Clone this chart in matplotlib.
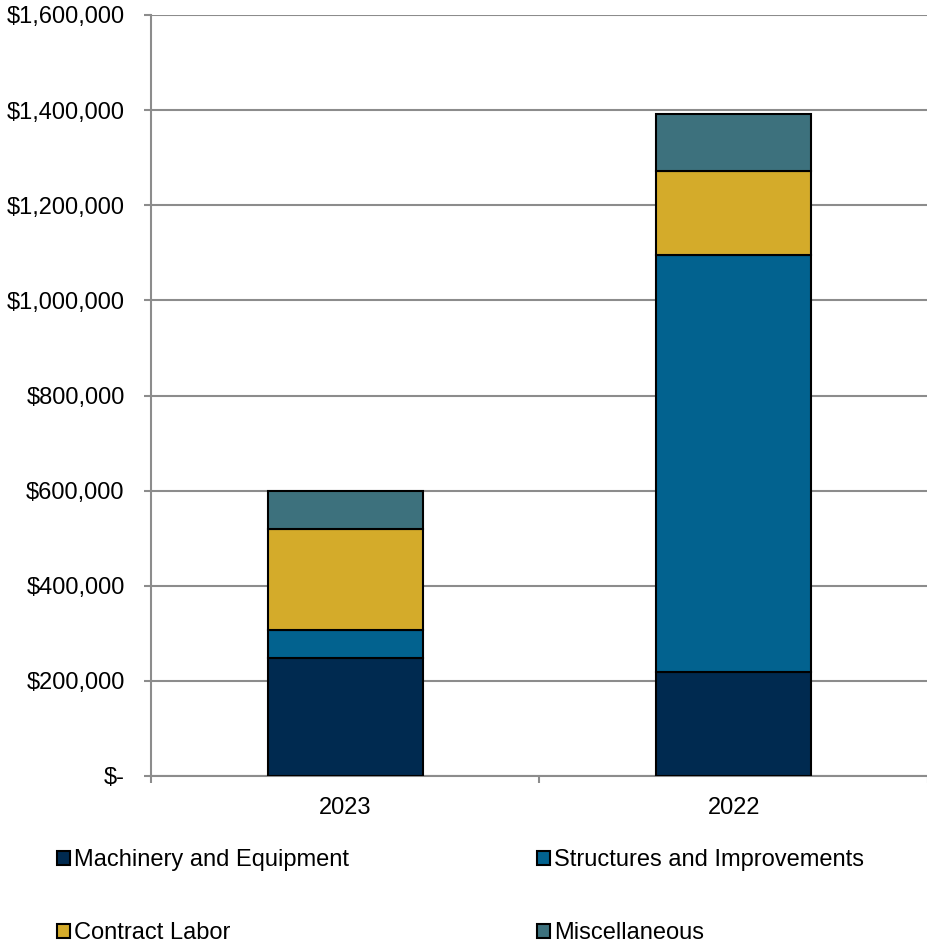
import matplotlib
matplotlib.use("Agg")
import matplotlib.pyplot as plt
from matplotlib.patches import Patch
from matplotlib.ticker import FuncFormatter
import numpy as np

plt.rcParams['font.family'] = ['Liberation Sans', 'DejaVu Sans']

years = ["2023", "2022"]
machinery = [247500, 219000]
structures = [59500, 876500]
contract = [212000, 176500]
misc = [81000, 120500]

series = [
    ("Machinery and Equipment", machinery, "#002A50"),
    ("Structures and Improvements", structures, "#02628F"),
    ("Contract Labor", contract, "#D4AB2A"),
    ("Miscellaneous", misc, "#3D717D"),
]

fig = plt.figure(figsize=(9.28, 9.43), dpi=100)
ax = fig.add_axes([151 / 928, 167 / 943, 777 / 928, 761 / 943])

x = np.arange(len(years))
bottom = np.zeros(len(years))
for name, vals, col in series:
    ax.bar(x, vals, width=0.4, bottom=bottom, color=col,
           edgecolor="black", linewidth=1.5, zorder=3)
    bottom += np.array(vals)

grid_col = "#8C8C8C"
ax.set_ylim(0, 1600000)
ax.set_yticks(np.arange(0, 1600001, 200000))
ax.yaxis.set_major_formatter(FuncFormatter(
    lambda v, p: "$-" if v == 0 else "${:,.0f}".format(v)))
ax.grid(axis="y", color=grid_col, linewidth=1.5, zorder=0)
ax.set_axisbelow(True)

ax.set_xlim(-0.5, 1.5)
ax.set_xticks(x)
ax.set_xticklabels(years)
ax.set_xticks([-0.5, 0.5, 1.5], minor=True)
ax.tick_params(axis="x", which="major", length=0, pad=15, labelsize=17)
ax.tick_params(axis="x", which="minor", length=5, color=grid_col, width=1.5)
ax.tick_params(axis="y", length=5, color=grid_col, width=1.5, pad=14, labelsize=17)

for s in ["top", "right"]:
    ax.spines[s].set_visible(False)
for s in ["left", "bottom"]:
    ax.spines[s].set_color(grid_col)
    ax.spines[s].set_linewidth(1.5)

# legend: two rows, two columns
order = [0, 2, 1, 3]
handles = [Patch(facecolor=series[i][2], edgecolor="black", linewidth=1.5) for i in order]
labels = [series[i][0] for i in order]
fig.legend(handles, labels, ncol=2, loc="upper left",
           bbox_to_anchor=(57 / 928, 1 - 849 / 943), frameon=False,
           fontsize=17, handlelength=0.55, handleheight=0.55,
           handletextpad=0.17, labelspacing=2.18, columnspacing=7.95,
           borderpad=0, borderaxespad=0)

fig.savefig("out.png", dpi=100)
